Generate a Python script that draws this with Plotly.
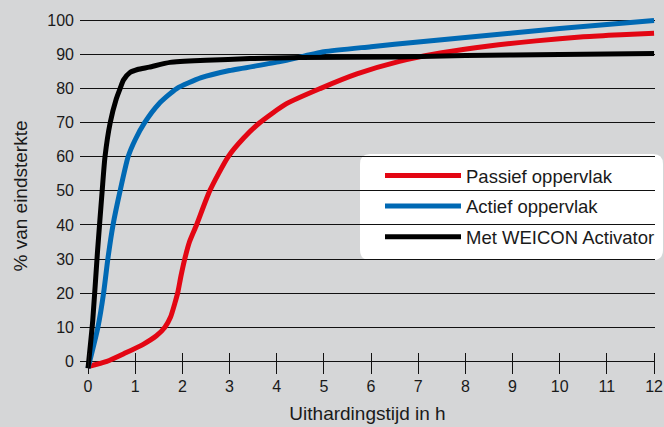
import plotly.graph_objects as go

# ---- data ----
black_x = [0, 0.1, 0.2, 0.3, 0.36, 0.47, 0.6, 0.68, 0.75, 0.89, 1.05, 1.3, 1.74, 2.5, 3.43, 4.5, 6.6, 8, 10, 12]
black_y = [-2, 12, 32, 50, 60, 70, 77, 80, 82.5, 84.7, 85.6, 86.3, 87.7, 88.3, 88.8, 89.1, 89.3, 89.7, 90, 90.3]

blue_x = [0, 0.21, 0.33, 0.42, 0.53, 0.68, 0.85, 1.0, 1.2, 1.5, 1.88, 2.4, 3, 4.07, 5, 6, 7, 8, 9, 10, 11, 12]
blue_y = [-2, 10, 20, 30, 40, 50, 60, 65, 70, 75.5, 80, 83.2, 85.3, 87.9, 90.8, 92.3, 93.7, 95, 96.3, 97.6, 98.8, 100]

red_x = [0, 0.4, 0.8, 1.17, 1.45, 1.63, 1.75, 1.84, 1.9, 1.97, 2.05, 2.15, 2.3, 2.58, 2.97, 3.3, 3.64,
         4.2, 4.92, 5.7, 6.6, 7.5, 8.5, 9.5, 10.5, 11.3, 12]
red_y = [-1.5, 0, 2.5, 5, 7.5, 10, 13, 17, 20, 25, 30, 35, 40, 50, 60, 65.5, 70,
         75.5, 80, 84.3, 88, 90.5, 92.5, 94, 95.2, 95.8, 96.2]

series_names = ["Passief oppervlak", "Actief oppervlak", "Met WEICON Activator"]
series_colors = ["#e30613", "#0069b4", "#000000"]

x_ticks = list(range(0, 13))
y_ticks = list(range(0, 101, 10))

fig = go.Figure()
for name, color, xs, ys in zip(series_names, series_colors,
                               [red_x, blue_x, black_x], [red_y, blue_y, black_y]):
    fig.add_trace(go.Scatter(
        x=xs, y=ys, mode="lines", name=name, legendgroup=name,
        line=dict(color=color, width=5, shape="spline", smoothing=0.6),
    ))

L, R, T, B = 80, 9, 17, 52
W, H = 664 - L - R, 427 - T - B

font = "Liberation Sans, Arial, Helvetica, sans-serif"
fig.update_layout(
    width=664, height=427,
    margin=dict(l=L, r=R, t=T, b=B, autoexpand=False),
    paper_bgcolor="#d5d6d7",
    plot_bgcolor="rgba(0,0,0,0)",
    font=dict(family=font, size=16, color="#1a1a1a"),
    xaxis=dict(
        range=[-0.17, 12.02], tickvals=x_ticks, showgrid=False, zeroline=False,
        showline=False, ticks="outside", ticklen=21, tickwidth=1.3, tickcolor="#111",
        anchor="free", position=(H - (352 - T)) / H, ticklabelstandoff=-1,
        automargin=False, tickfont=dict(size=16),
        title=dict(text="Uithardingstijd in h", font=dict(size=19), standoff=12),
    ),
    yaxis=dict(
        range=[-4, 101], tickvals=y_ticks, showgrid=True, gridcolor="#111", gridwidth=1.2,
        zeroline=True, zerolinecolor="#111", zerolinewidth=1.4, showline=False, ticks="",
        ticklabelstandoff=5, automargin=False, tickfont=dict(size=16),
        title=dict(text="% van eindsterkte", font=dict(size=19), standoff=14),
    ),
    showlegend=True,
    legend=dict(
        x=(466 - L - 86) / W, y=(427 - B - 157) / H, xanchor="left", yanchor="top",
        bgcolor="rgba(0,0,0,0)", borderwidth=0, itemwidth=76, tracegroupgap=3.5,
        font=dict(size=18.5, color="#1a1a1a"),
    ),
)

# rounded white legend box (paper coords)
def px_to_paper(xp, yp):
    return (xp - L) / W, (427 - B - yp) / H

x0, y0 = px_to_paper(360, 154)
x1, y1 = px_to_paper(663, 260)
rx = 10 / W
ry = 10 / H
path = (f"M{x0+rx},{y0} L{x1-rx},{y0} Q{x1},{y0} {x1},{y0-ry} "
        f"L{x1},{y1+ry} Q{x1},{y1} {x1-rx},{y1} L{x0+rx},{y1} Q{x0},{y1} {x0},{y1+ry} "
        f"L{x0},{y0-ry} Q{x0},{y0} {x0+rx},{y0} Z")
fig.add_shape(type="path", path=path, xref="paper", yref="paper",
              fillcolor="white", line=dict(width=0), layer="below")

fig.write_html("out.html", config={"displayModeBar": False},
               post_script="document.body.style.margin='0';")
